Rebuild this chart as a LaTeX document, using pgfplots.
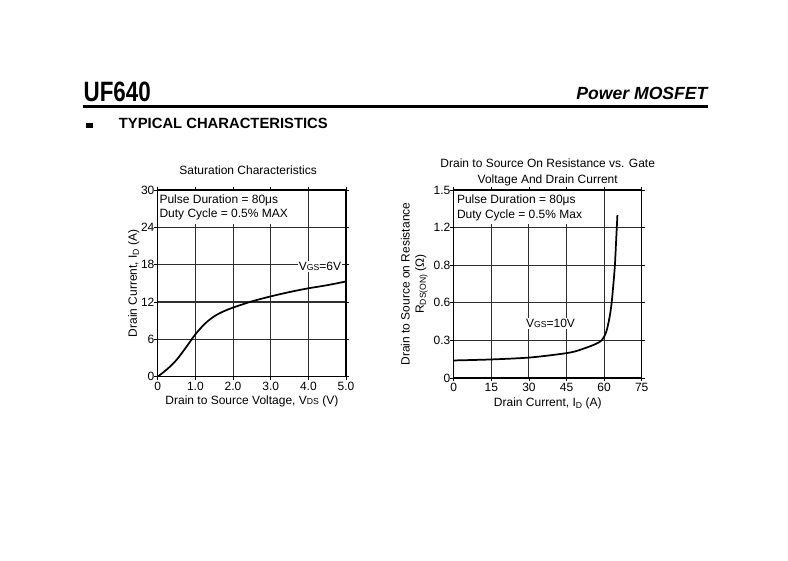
\documentclass[border=0pt]{standalone}
\usepackage{pgfplots}
\pgfplotsset{compat=1.18}
\usepackage{fontspec}
\setmainfont{Liberation Sans}
\newcommand{\sub}[1]{{\fontsize{6.5}{6.5}\selectfont #1}}
\newcommand{\lsub}[1]{\raisebox{-0.3ex}{\fontsize{6.5}{6.5}\selectfont #1}}
\pgfplotsset{
  every axis title shift=0pt,
  mystyle/.style={
    scale only axis,
    axis line style={line width=0.8pt},
    grid=major,
    grid style={line width=0.8pt, color=black!82},
    tick style={black, line width=0.6pt},
    tick align=outside,
    major tick length=2.5pt,
    tick label style={font=\fontsize{9}{9}\selectfont},
    xticklabel style={yshift=2.3pt},
    yticklabel style={xshift=3.5pt},
    label style={font=\fontsize{9}{10.8}\selectfont},
    title style={font=\fontsize{9}{12}\selectfont, align=center, anchor=center},
    /pgf/number format/assume math mode=true,
  }
}
\begin{document}
\begin{tikzpicture}
\useasboundingbox (0,0) rectangle (591pt,420pt);
% header
\node[anchor=base west, inner sep=0] at (62.5pt,343.8pt)
  {\scalebox{0.8}[1]{\fontsize{21}{21}\selectfont\bfseries UF640}};
\node[anchor=base east, inner sep=0] at (530.8pt,345pt)
  {\fontsize{13.2}{13.2}\selectfont\bfseries\itshape Power MOSFET};
\draw[line width=1.6pt] (62.5pt,340.1pt) -- (530.8pt,340.1pt);
\fill (64.5pt,323.8pt) rectangle (69.5pt,328pt);
\node[anchor=base west, inner sep=0] at (89pt,323.8pt)
  {\fontsize{11.1}{11.1}\selectfont\bfseries TYPICAL CHARACTERISTICS};

% left chart
\begin{axis}[mystyle,
  at={(118.3pt,137.5pt)}, anchor=south west,
  width=141.2pt, height=140pt,
  xmin=0, xmax=5, ymin=0, ymax=30,
  xtick={0,1,2,3,4,5}, xticklabels={0,1.0,2.0,3.0,4.0,5.0},
  ytick={0,6,12,18,24,30}, yticklabels={0,6,12,18,24,30},
  title={Saturation Characteristics},
  title style={at={(axis description cs:0.48,1.107)}},
  xlabel={Drain to Source Voltage, V\sub{DS} (V)},
  xlabel style={at={(axis description cs:0.5,-0.13)}, anchor=center},
  ylabel={Drain Current, I\lsub{D} (A)},
  ylabel style={at={(axis description cs:-0.127,0.5)}, anchor=center, rotate=0},
]
\fill[white] (axis cs:0.03,24.5) rectangle (axis cs:3.9,29.9);
\node[anchor=base west, inner sep=0, font=\fontsize{9}{9}\selectfont] at (axis cs:0.04,27.86) {Pulse Duration = 80μs};
\node[anchor=base west, inner sep=0, font=\fontsize{9}{9}\selectfont] at (axis cs:0.04,25.55) {Duty Cycle = 0.5\% MAX};
\addplot[black, line width=1.3pt, smooth] coordinates {
  (0,0) (0.25,1.2) (0.5,2.7) (0.75,4.7) (1.0,6.8) (1.25,8.5) (1.5,9.7)
  (1.75,10.5) (2.0,11.1) (2.5,12.1) (3.0,12.9) (3.5,13.6) (4.0,14.2)
  (4.5,14.7) (5.0,15.3)};
\node[fill=white, inner sep=0.8pt, font=\fontsize{9}{9}\selectfont] at (axis cs:4.31,17.7) {V\sub{GS}=6V};
\end{axis}

% right chart
\begin{axis}[mystyle,
  at={(340.3pt,136.5pt)}, anchor=south west,
  width=141pt, height=141pt,
  xmin=0, xmax=75, ymin=0, ymax=1.5,
  xtick={0,15,30,45,60,75}, xticklabels={0,15,30,45,60,75},
  ytick={0,0.3,0.6,0.9,1.2,1.5}, yticklabels={0,0.3,0.6,0.8,1.2,1.5},
  title={Drain to Source On Resistance vs. Gate\\Voltage And Drain Current},
  title style={at={(axis description cs:0.5,1.096)}},
  xlabel={Drain Current, I\lsub{D} (A)},
  xlabel style={at={(axis description cs:0.5,-0.133)}, anchor=center},
  ylabel={Drain to Source on Resistance\\R\lsub{DS(ON)} (Ω)},
  ylabel style={at={(axis description cs:-0.21,0.5)}, anchor=center, align=center, rotate=0},
]
\fill[white] (axis cs:0.4,1.23) rectangle (axis cs:59.3,1.49);
\node[anchor=base west, inner sep=0, font=\fontsize{9}{9}\selectfont] at (axis cs:1.2,1.394) {Pulse Duration = 80μs};
\node[anchor=base west, inner sep=0, font=\fontsize{9}{9}\selectfont] at (axis cs:1.2,1.274) {Duty Cycle = 0.5\% Max};
\addplot[black, line width=1.3pt, smooth, tension=0.5] coordinates {
  (0,0.14) (15,0.148) (30,0.163) (42,0.19) (48,0.21) (54,0.25) (57,0.275)
  (59,0.3) (60.5,0.35) (61.4,0.41) (62.3,0.5) (63,0.6) (63.7,0.75)
  (64.3,0.9) (64.8,1.1) (65.3,1.3)};
\node[fill=white, inner sep=0.8pt, font=\fontsize{9}{9}\selectfont] at (axis cs:38.6,0.437) {V\sub{GS}=10V};
\end{axis}
\end{tikzpicture}
\end{document}
